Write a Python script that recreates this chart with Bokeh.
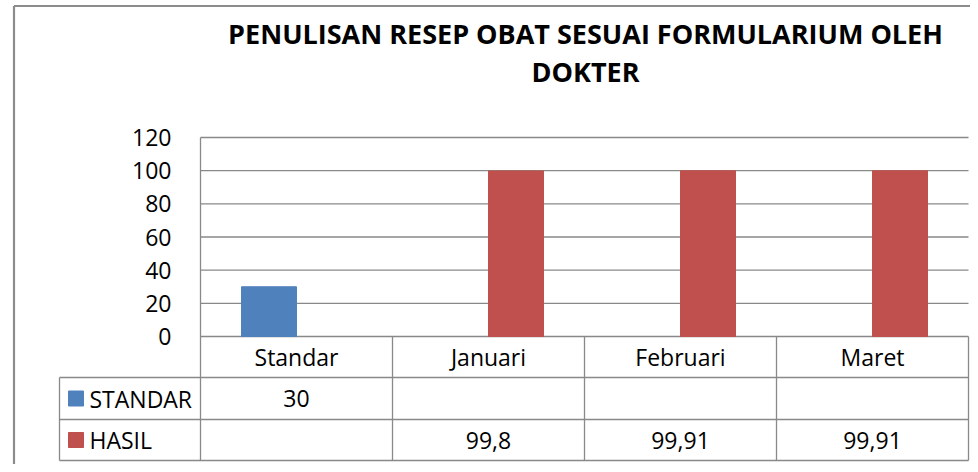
from bokeh.plotting import figure
from bokeh.models import Range1d, FixedTicker
from bokeh.core.properties import value
from bokeh.embed import file_html
from bokeh.resources import INLINE

# ---------------- data ----------------
categories = ["Standar", "Januari", "Februari", "Maret"]
series_names = ["STANDAR", "HASIL"]
standar_values = [30, None, None, None]
hasil_values = [None, 99.8, 99.91, 99.91]
y_ticks = [0, 20, 40, 60, 80, 100, 120]
title_lines = ["PENULISAN RESEP OBAT SESUAI FORMULARIUM OLEH", "DOKTER"]
series_colors = ["#4F81BD", "#C0504D"]

# ---------------- layout (pixels) ----------------
W, H = 970, 464
PLOT_L, PLOT_R, PLOT_T, PLOT_B = 200, 968, 137, 336
TABLE_L = 59
ROW_EDGES = [336, 377, 419, 460]
FONT = "Open Sans"
LINE_C = "#898989"

n = len(categories)
cat_px = (PLOT_R - PLOT_L) / n
px_per_y = (PLOT_B - PLOT_T) / y_ticks[-1]


def X(px):
    return (px - PLOT_L) / cat_px


def Y(py):
    return (PLOT_B - py) / px_per_y


p = figure(width=W, height=H, output_backend="svg", toolbar_location=None,
           x_range=Range1d(X(0), X(W)), y_range=Range1d(Y(H), Y(0)),
           min_border=0, outline_line_color=None)
p.xaxis.visible = False
p.xgrid.visible = False
p.ygrid.visible = False
p.background_fill_color = "white"
p.border_fill_color = "white"

# y axis placed at the category-area left edge
ax = p.yaxis[0]
ax.ticker = FixedTicker(ticks=y_ticks)
ax.fixed_location = 0
ax.axis_line_color = None
ax.major_tick_line_color = None
ax.minor_tick_line_color = None
ax.major_label_standoff = 23
ax.major_label_text_font = FONT
ax.major_label_text_font_size = "23px"
ax.major_label_text_color = "black"

# gridlines
p.segment(x0=[0] * len(y_ticks), x1=[n] * len(y_ticks), y0=y_ticks, y1=y_ticks,
          line_color=LINE_C, line_width=1.3)

# bars (clustered)
bar_w = 55 / cat_px
offsets = [-bar_w / 2, bar_w / 2]
for vals, off, col in zip([standar_values, hasil_values], offsets, series_colors):
    xs, tops = [], []
    for i, v in enumerate(vals):
        if v is not None:
            xs.append(i + 0.5 + off)
            tops.append(v)
    p.vbar(x=xs, top=tops, bottom=0, width=bar_w, fill_color=col, line_color=col)

# left vertical line of the plot / table
p.segment(x0=[0], x1=[0], y0=[Y(ROW_EDGES[-1])], y1=[Y(PLOT_T)], line_color=LINE_C, line_width=1.3)

# table horizontal lines
for ry in ROW_EDGES[1:]:
    p.segment(x0=[X(TABLE_L)], x1=[n], y0=[Y(ry)], y1=[Y(ry)], line_color=LINE_C, line_width=1.3)
# table vertical lines
vx = list(range(1, n + 1))
p.segment(x0=vx, x1=vx, y0=[Y(ROW_EDGES[-1])] * n, y1=[Y(ROW_EDGES[0])] * n,
          line_color=LINE_C, line_width=1.3)
p.segment(x0=[X(TABLE_L)], x1=[X(TABLE_L)], y0=[Y(ROW_EDGES[-1])], y1=[Y(ROW_EDGES[1])],
          line_color=LINE_C, line_width=1.3)

# header row: category labels
row_mid = [(ROW_EDGES[k] + ROW_EDGES[k + 1]) / 2 for k in range(3)]
p.text(x=[i + 0.5 for i in range(n)], y=[Y(row_mid[0])] * n, text=categories,
       text_font=value(FONT), text_font_size="23px", text_align="center",
       text_baseline="middle", text_color="black")


def fmt(v):
    return ("%g" % v).replace(".", ",")


for r, (name, vals, col) in enumerate(zip(series_names, [standar_values, hasil_values], series_colors)):
    yy = Y(row_mid[r + 1])
    xs = [i + 0.5 for i, v in enumerate(vals) if v is not None]
    labels = [fmt(v) for v in vals if v is not None]
    p.text(x=xs, y=[yy] * len(xs), text=labels, text_font=value(FONT),
           text_font_size="23px", text_align="center", text_baseline="middle",
           text_color="black")
    # legend key
    p.rect(x=[X(75.5)], y=[yy], width=15, height=15, width_units="screen",
           height_units="screen", fill_color=col, line_color=col)
    p.text(x=[X(89)], y=[yy], text=[name], text_font=value(FONT),
           text_font_size="23px", text_align="left", text_baseline="middle",
           text_color="black")

# title
title_x = X(585)
p.text(x=[title_x, title_x], y=[Y(33), Y(71)], text=title_lines,
       text_font=value(FONT), text_font_size="27px", text_font_style="bold",
       text_align="center", text_baseline="middle", text_color="black")

# chart frame border
FX, FY = 13.5, 5.5
p.segment(x0=[X(FX)], x1=[X(FX)], y0=[Y(H)], y1=[Y(FY)],
          line_color="#8C8C8C", line_width=2.2)
p.segment(x0=[X(FX)], x1=[X(W)], y0=[Y(FY)], y1=[Y(FY)],
          line_color="#8C8C8C", line_width=2.2)

open("out.html", "w").write(file_html(p, INLINE))
